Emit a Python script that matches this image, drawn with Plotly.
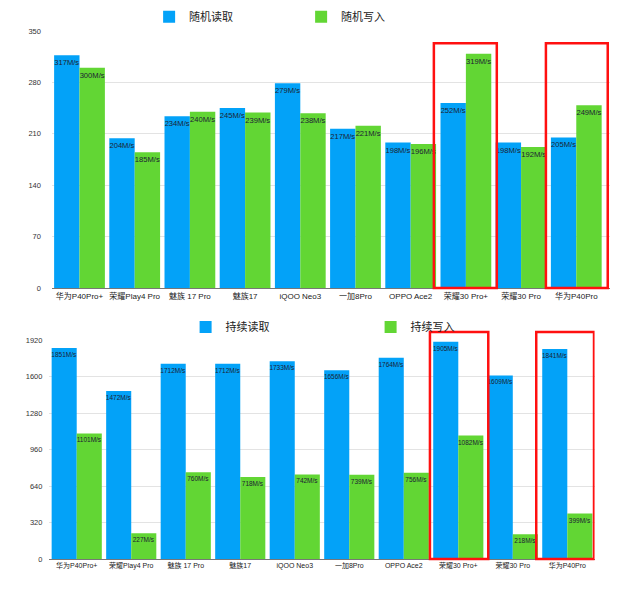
import plotly.graph_objects as go

phones_top = ["华为P40Pro+", "荣耀Play4 Pro", "魅族 17 Pro", "魅族17", "iQOO Neo3",
              "一加8Pro", "OPPO Ace2", "荣耀30 Pro+", "荣耀30 Pro", "华为P40Pro"]
rand_read = [317, 204, 234, 245, 279, 217, 198, 252, 198, 205]
rand_write = [300, 185, 240, 239, 238, 221, 196, 319, 192, 249]

phones_bot = ["华为P40Pro+", "荣耀Play4 Pro", "魅族 17 Pro", "魅族17", "iQOO Neo3",
              "一加8Pro", "OPPO Ace2", "荣耀30 Pro+", "荣耀30 Pro", "华为P40Pro"]
seq_read = [1851, 1472, 1712, 1712, 1733, 1656, 1764, 1905, 1609, 1841]
seq_write = [1101, 227, 760, 718, 742, 739, 756, 1082, 218, 399]

top_ticks = [0, 70, 140, 210, 280, 350]
bot_ticks = [0, 320, 640, 960, 1280, 1600, 1920]

BLUE = "#03A2F8"
GREEN = "#62D634"
FONT = "Liberation Sans, Noto Sans CJK SC, sans-serif"
TXT = "#1c2233"

fig = go.Figure()

def bar(x, y, name, color, xa, ya, legend, size):
    return go.Bar(x=list(range(len(x))), y=y, name=name, marker_color=color,
                  marker_line_width=0,
                  text=[f"{v}M/s" for v in y], textposition="inside",
                  insidetextanchor="end", textangle=0, constraintext="none",
                  textfont=dict(size=size, color=TXT, family=FONT),
                  xaxis=xa, yaxis=ya, legend=legend, cliponaxis=False)

fig.add_trace(bar(phones_top, rand_read, "随机读取", BLUE, "x", "y", "legend", 7.6))
fig.add_trace(bar(phones_top, rand_write, "随机写入", GREEN, "x", "y", "legend", 7.6))
fig.add_trace(bar(phones_bot, seq_read, "持续读取", BLUE, "x2", "y2", "legend2", 6.5))
fig.add_trace(bar(phones_bot, seq_write, "持续写入", GREEN, "x2", "y2", "legend2", 6.5))

axis_common = dict(showgrid=False, showline=True, linecolor="#777", linewidth=1,
                   ticks="", tickangle=0, automargin=False)
yaxis_common = dict(showgrid=True, gridcolor="#e3e3e3", gridwidth=1, zeroline=False,
                    showline=False, ticks="", automargin=False)

fig.update_layout(
    width=640, height=600,
    margin=dict(l=0, r=0, t=0, b=0),
    paper_bgcolor="white", plot_bgcolor="white",
    barmode="group", bargap=0.08, bargroupgap=0,
    font=dict(family=FONT),
    xaxis=dict(axis_common, domain=[0.0811, 0.9539], range=[-0.5, 9.62], anchor="y",
               tickmode="array", tickvals=list(range(10)), ticktext=phones_top,
               tickfont=dict(size=8, color="#222", family=FONT)),
    yaxis=dict(yaxis_common, domain=[0.52, 0.9483], range=[0, 350], anchor="x",
               tickmode="array", tickvals=top_ticks, ticklabelstandoff=10,
               tickfont=dict(size=7.5, color="#333", family=FONT)),
    xaxis2=dict(axis_common, domain=[0.0773, 0.929], range=[-0.5, 9.5], anchor="y2",
                tickmode="array", tickvals=list(range(10)), ticktext=phones_bot,
                tickfont=dict(size=7, color="#222", family=FONT)),
    yaxis2=dict(yaxis_common, domain=[0.0683, 0.4333], range=[0, 1920], anchor="x2",
                tickmode="array", tickvals=bot_ticks, ticklabelstandoff=6,
                tickfont=dict(size=7.5, color="#333", family=FONT)),
    legend=dict(orientation="h", x=0.233, xanchor="left", y=0.972, yanchor="middle",
                entrywidth=107, entrywidthmode="pixels",
                font=dict(size=11, color="#222", family=FONT), bgcolor="rgba(0,0,0,0)"),
    legend2=dict(orientation="h", x=0.29, xanchor="left", y=0.455, yanchor="middle",
                 entrywidth=140, entrywidthmode="pixels",
                 font=dict(size=11, color="#222", family=FONT), bgcolor="rgba(0,0,0,0)"),
    showlegend=True,
)

RED = dict(color="#ff1010", width=2.5)
boxes = [
    ("x", 6.42, 7.56, 0.52, 0.928),
    ("x", 8.45, 9.57, 0.52, 0.928),
    ("x2", 6.48, 7.55, 0.0683, 0.4467),
    ("x2", 8.43, 9.49, 0.0683, 0.4467),
]
for xr, x0, x1, y0, y1 in boxes:
    fig.add_shape(type="rect", xref=xr, yref="paper", x0=x0, x1=x1, y0=y0, y1=y1,
                  line=RED, fillcolor="rgba(0,0,0,0)", layer="above")

fig.write_html("out.html")
